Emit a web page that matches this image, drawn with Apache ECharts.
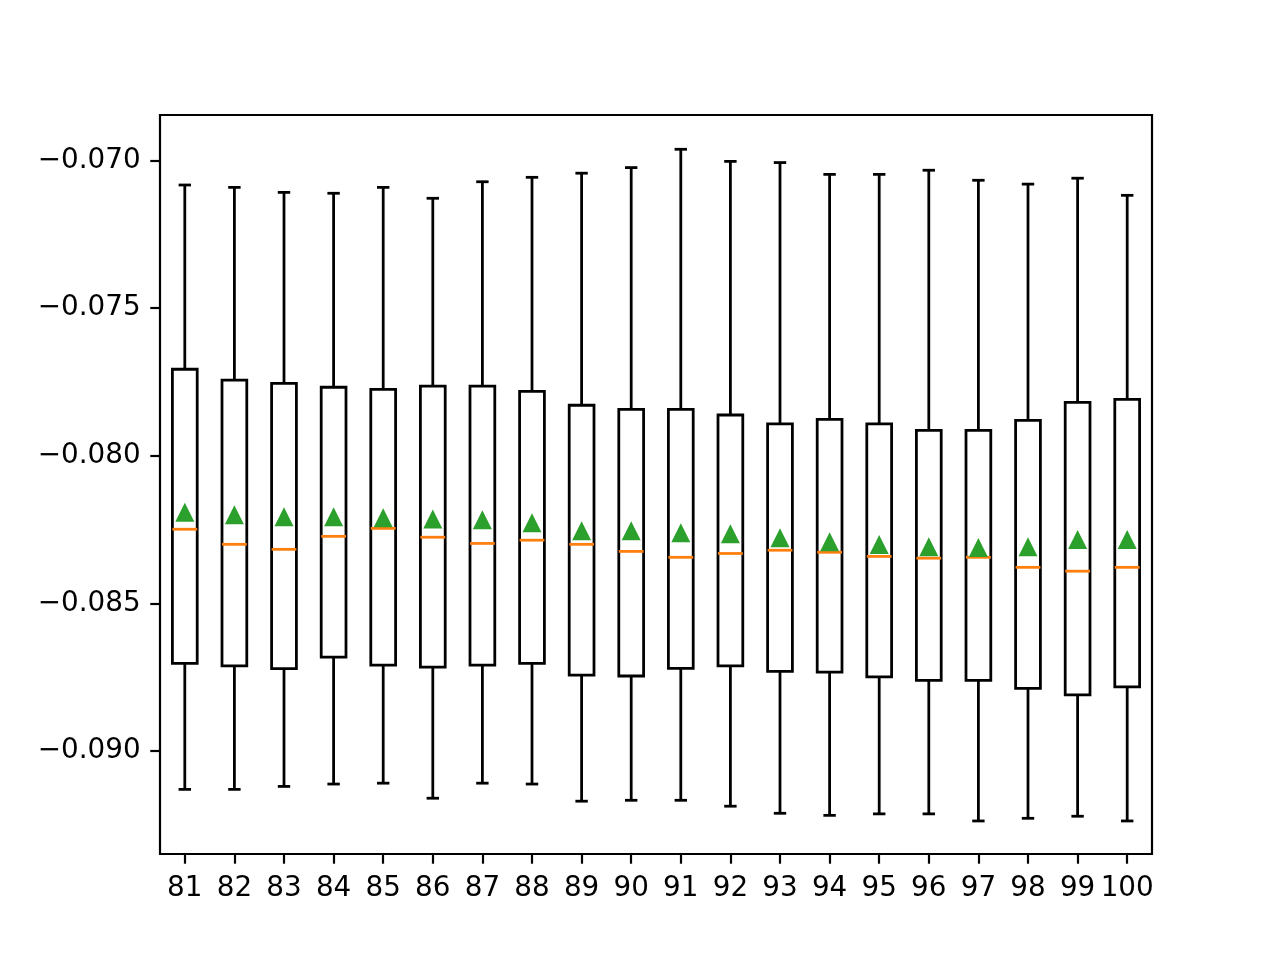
<!DOCTYPE html>
<html>
<head>
<meta charset="utf-8">
<script src="https://cdn.jsdelivr.net/npm/echarts@6/dist/echarts.min.js"></script>
<style>html,body{margin:0;padding:0;background:#fff}#chart{width:1280px;height:960px}</style>
</head>
<body>
<div id="chart"></div>
<script>
var categories = ['81','82','83','84','85','86','87','88','89','90','91','92','93','94','95','96','97','98','99','100'];
var whiskerLow = [-0.09130,-0.09130,-0.09120,-0.09112,-0.09109,-0.09160,-0.09109,-0.09112,-0.09170,-0.09167,-0.09167,-0.09187,-0.09211,-0.09218,-0.09213,-0.09213,-0.09237,-0.09228,-0.09221,-0.09237];
var q1 = [-0.08703,-0.08712,-0.08721,-0.08682,-0.08709,-0.08716,-0.08709,-0.08703,-0.08743,-0.08746,-0.08720,-0.08712,-0.08730,-0.08733,-0.08749,-0.08761,-0.08761,-0.08788,-0.08810,-0.08783];
var medians = [-0.08249,-0.08300,-0.08317,-0.08273,-0.08246,-0.08276,-0.08297,-0.08286,-0.08300,-0.08324,-0.08344,-0.08331,-0.08320,-0.08327,-0.08341,-0.08347,-0.08344,-0.08378,-0.08391,-0.08378];
var q3 = [-0.07707,-0.07744,-0.07755,-0.07768,-0.07775,-0.07764,-0.07764,-0.07782,-0.07829,-0.07843,-0.07843,-0.07862,-0.07892,-0.07877,-0.07892,-0.07914,-0.07914,-0.07880,-0.07819,-0.07809];
var whiskerHigh = [-0.07083,-0.07091,-0.07108,-0.07111,-0.07091,-0.07128,-0.07072,-0.07057,-0.07043,-0.07024,-0.06962,-0.07003,-0.07007,-0.07047,-0.07047,-0.07033,-0.07067,-0.07080,-0.07060,-0.07118];
var means = [-0.08191,-0.08200,-0.08207,-0.08207,-0.08210,-0.08214,-0.08217,-0.08227,-0.08254,-0.08254,-0.08261,-0.08264,-0.08278,-0.08291,-0.08301,-0.08308,-0.08311,-0.08308,-0.08284,-0.08284];
var yTicks = [-0.090,-0.085,-0.080,-0.075,-0.070];
var yMin = -0.093489, yMax = -0.068459;

var boxData = categories.map(function (c, i) {
  return [i, whiskerLow[i], q1[i], medians[i], q3[i], whiskerHigh[i]];
});
var meanData = categories.map(function (c, i) { return [i, means[i]]; });

var LW = 2.78;
function renderBox(params, api) {
  var i = api.value(0);
  var band = api.size([1, 0])[0];
  var pMin = api.coord([i, api.value(1)]);
  var pQ1 = api.coord([i, api.value(2)]);
  var pMed = api.coord([i, api.value(3)]);
  var pQ3 = api.coord([i, api.value(4)]);
  var pMax = api.coord([i, api.value(5)]);
  var x = pQ1[0];
  var bw = band * 0.5, cw = band * 0.25;
  var ls = {stroke: '#000', lineWidth: LW, fill: null, lineCap: 'butt'};
  var ms = {stroke: '#ff7f0e', lineWidth: LW, fill: null};
  return {
    type: 'group',
    children: [
      {type: 'line', shape: {x1: x, y1: pQ1[1], x2: x, y2: pMin[1]}, style: ls},
      {type: 'line', shape: {x1: x, y1: pQ3[1], x2: x, y2: pMax[1]}, style: ls},
      {type: 'line', shape: {x1: x - cw / 2, y1: pMin[1], x2: x + cw / 2, y2: pMin[1]}, style: ls},
      {type: 'line', shape: {x1: x - cw / 2, y1: pMax[1], x2: x + cw / 2, y2: pMax[1]}, style: ls},
      {type: 'rect', shape: {x: x - bw / 2, y: pQ3[1], width: bw, height: pQ1[1] - pQ3[1]}, style: {stroke: '#000', lineWidth: LW, fill: null, lineJoin: 'miter'}},
      {type: 'line', shape: {x1: x - bw / 2, y1: pMed[1], x2: x + bw / 2, y2: pMed[1]}, style: ms}
    ]
  };
}

var chart = echarts.init(document.getElementById('chart'), null, {renderer: 'canvas'});
var font = {fontFamily: 'DejaVu Sans', fontSize: 27.8, color: '#000'};
chart.setOption({
  backgroundColor: '#fff',
  animation: false,
  grid: {left: 160, right: 128, top: 115, bottom: 106, show: true, borderColor: '#000', borderWidth: 2.2, backgroundColor: 'transparent', containLabel: false},
  xAxis: {
    type: 'category',
    data: categories,
    boundaryGap: true,
    axisLine: {show: false},
    axisTick: {show: true, alignWithLabel: true, length: 9.7, lineStyle: {color: '#000', width: 2.2}},
    axisLabel: Object.assign({margin: 21, interval: 0}, font),
    splitLine: {show: false}
  },
  yAxis: {
    type: 'value',
    min: yMin,
    max: yMax,
    axisLine: {show: false},
    axisTick: {show: true, length: 9.7, customValues: yTicks, lineStyle: {color: '#000', width: 2.2}},
    axisLabel: Object.assign({
      margin: 19.4,
      customValues: yTicks,
      formatter: function (v) { return (v < 0 ? '\u2212' : '') + Math.abs(v).toFixed(3); }
    }, font),
    splitLine: {show: false}
  },
  series: [
    {
      type: 'custom',
      name: 'box',
      data: boxData,
      encode: {x: 0, y: [1, 2, 3, 4, 5]},
      renderItem: renderBox,
      z: 2
    },
    {
      type: 'scatter',
      name: 'mean',
      data: meanData,
      symbol: 'triangle',
      symbolSize: 19,
      itemStyle: {color: '#2ca02c', opacity: 1},
      z: 3
    }
  ]
});
</script>
</body>
</html>
